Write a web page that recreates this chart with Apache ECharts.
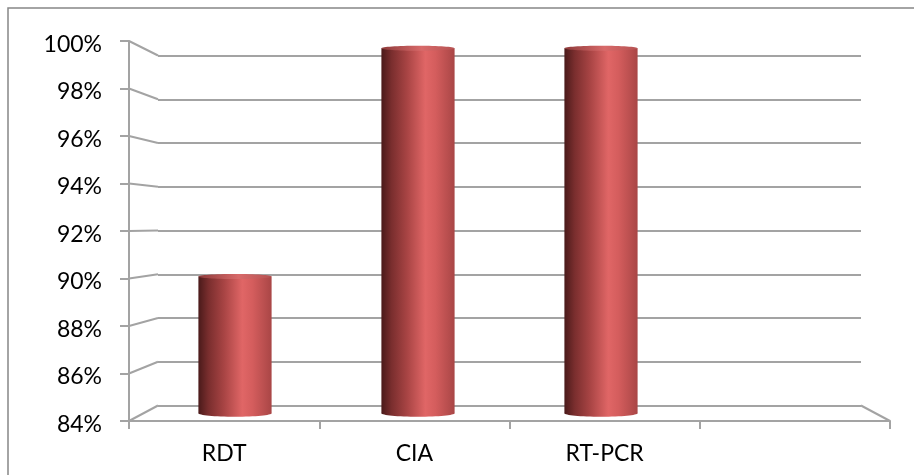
<!DOCTYPE html>
<html>
<head>
<meta charset="utf-8">
<style>
  html, body { margin: 0; padding: 0; background: #ffffff; }
  #chart { width: 914px; height: 475px; }
</style>
<script src="https://cdn.jsdelivr.net/npm/echarts@6/dist/echarts.min.js"></script>
</head>
<body>
<div id="chart"></div>
<script>
// Detection rate by test method
const categories = ['RDT', 'CIA', 'RT-PCR', ''];
const rates = [90, 100, 100];          // percent
const yTicks = [84, 86, 88, 90, 92, 94, 96, 98, 100];
const yMin = 84, yMax = 100, yStep = 2;

// front plane (axes) and back wall of the pseudo-3D box
const FRONT = { left: 129, right: 24, top: 41, bottom: 54 };
const BACK = { left: 158, right: 53, top: 55.5, bottom: 69.5 };
const DEPTH = 0.5;      // bars stand half way into the box
const BAR_RATIO = 0.40; // bar width relative to category band
const GRID_COLOR = '#a3a3a3';
const FONT = 'Lato, "Open Sans", sans-serif';

const chart = echarts.init(document.getElementById('chart'));

function rectOf(m, W, H) {
  return { x: m.left, y: m.top, w: W - m.left - m.right, h: H - m.top - m.bottom };
}
// map a point on the front plane to the plane at depth t (0 front, 1 back)
function project(pt, api, t) {
  const W = api.getWidth(), H = api.getHeight();
  const F = rectOf(FRONT, W, H), B = rectOf(BACK, W, H);
  const fx = (pt[0] - F.x) / F.w, fy = (pt[1] - F.y) / F.h;
  const bx = B.x + fx * B.w, by = B.y + fy * B.h;
  return [pt[0] + (bx - pt[0]) * t, pt[1] + (by - pt[1]) * t];
}

const barStops = [
  { offset: 0, color: '#4a1a1a' },
  { offset: 0.14, color: '#7a2e2e' },
  { offset: 0.35, color: '#a84444' },
  { offset: 0.6, color: '#e06666' },
  { offset: 0.74, color: '#d45d5d' },
  { offset: 1, color: '#a94646' }
];

function renderCylinder(params, api) {
  const idx = api.value(0), val = api.value(1);
  const cs = params.coordSys;
  const top = project(api.coord([idx, val]), api, DEPTH);
  const base = project(api.coord([idx, yMin]), api, DEPTH);
  const band = api.size([1, 0])[0];
  const scale = (project([cs.x + cs.width, 0], api, DEPTH)[0] - project([cs.x, 0], api, DEPTH)[0]) / cs.width;
  const w = band * scale * BAR_RATIO;
  const cx = top[0], x0 = cx - w / 2;
  const ry = 3.5;
  const grad = () => new echarts.graphic.LinearGradient(0, 0, 1, 0, barStops);
  return {
    type: 'group',
    children: [
      { type: 'ellipse', shape: { cx: cx, cy: base[1], rx: w / 2, ry: ry }, style: { fill: grad() } },
      { type: 'rect', shape: { x: x0, y: top[1], width: w, height: base[1] - top[1] }, style: { fill: grad() } },
      {
        type: 'ellipse', shape: { cx: cx, cy: top[1], rx: w / 2, ry: 2.5 },
        style: {
          fill: new echarts.graphic.LinearGradient(0, 0, 1, 0, [
            { offset: 0, color: '#8e3a3a' },
            { offset: 0.55, color: '#d86a6a' },
            { offset: 1, color: '#b65252' }
          ])
        }
      }
    ]
  };
}

// slanted lines joining the front ticks to the back-wall gridlines
function renderWallEdges(params, api) {
  const v = api.value(0);
  const cs = params.coordSys;
  const f = api.coord([0, v]);
  const front = [cs.x, f[1]];
  const back = project(front, api, 1);
  const children = [{
    type: 'line', shape: { x1: front[0], y1: front[1], x2: back[0], y2: back[1] },
    style: { stroke: GRID_COLOR, lineWidth: 2 }
  }];
  if (v === yMin) {
    const fr = [cs.x + cs.width, f[1]];
    const br = project(fr, api, 1);
    children.push({
      type: 'line', shape: { x1: fr[0], y1: fr[1], x2: br[0], y2: br[1] },
      style: { stroke: GRID_COLOR, lineWidth: 2 }
    });
  }
  return { type: 'group', children: children };
}

chart.setOption({
  animation: false,
  backgroundColor: '#ffffff',
  graphic: [{
    type: 'rect', silent: true, z: -1,
    shape: { x: 8, y: 8, width: 1200, height: 1200 },
    style: { fill: 'none', stroke: '#878787', lineWidth: 1.5 }
  }],
  grid: [
    Object.assign({ containLabel: false }, FRONT),
    Object.assign({ containLabel: false }, BACK)
  ],
  xAxis: [{
    gridIndex: 0, type: 'category', data: categories, boundaryGap: true,
    axisLine: { show: true, lineStyle: { color: GRID_COLOR, width: 2 } },
    axisTick: { show: true, length: 8, lineStyle: { color: GRID_COLOR, width: 2 } },
    axisLabel: { color: '#000', fontFamily: FONT, fontSize: 23, margin: 21 },
    splitLine: { show: false }
  }, {
    gridIndex: 1, type: 'category', data: categories, show: true,
    axisLine: { show: false }, axisTick: { show: false }, axisLabel: { show: false },
    splitLine: { show: false }
  }],
  yAxis: [{
    gridIndex: 0, type: 'value', min: yMin, max: yMax, interval: yStep,
    axisLine: { show: true, lineStyle: { color: GRID_COLOR, width: 2 } },
    axisTick: { show: true, length: 9, lineStyle: { color: GRID_COLOR, width: 2 } },
    axisLabel: {
      margin: 27,
      formatter: v => '{p|' + v + '%}',
      rich: { p: { color: '#000', fontFamily: FONT, fontSize: 23, padding: [7, 0, 0, 0] } }
    },
    splitLine: { show: false }
  }, {
    gridIndex: 1, type: 'value', min: yMin, max: yMax, interval: yStep,
    axisLine: { show: false }, axisTick: { show: false }, axisLabel: { show: false },
    splitLine: { show: true, lineStyle: { color: GRID_COLOR, width: 2 } }
  }],
  series: [{
    type: 'custom', xAxisIndex: 0, yAxisIndex: 0, z: 1,
    renderItem: renderWallEdges,
    data: yTicks.map(v => [v])
  }, {
    type: 'custom', xAxisIndex: 0, yAxisIndex: 0, z: 5,
    renderItem: renderCylinder,
    data: rates.map((v, i) => [i, v])
  }]
});
</script>
</body>
</html>
